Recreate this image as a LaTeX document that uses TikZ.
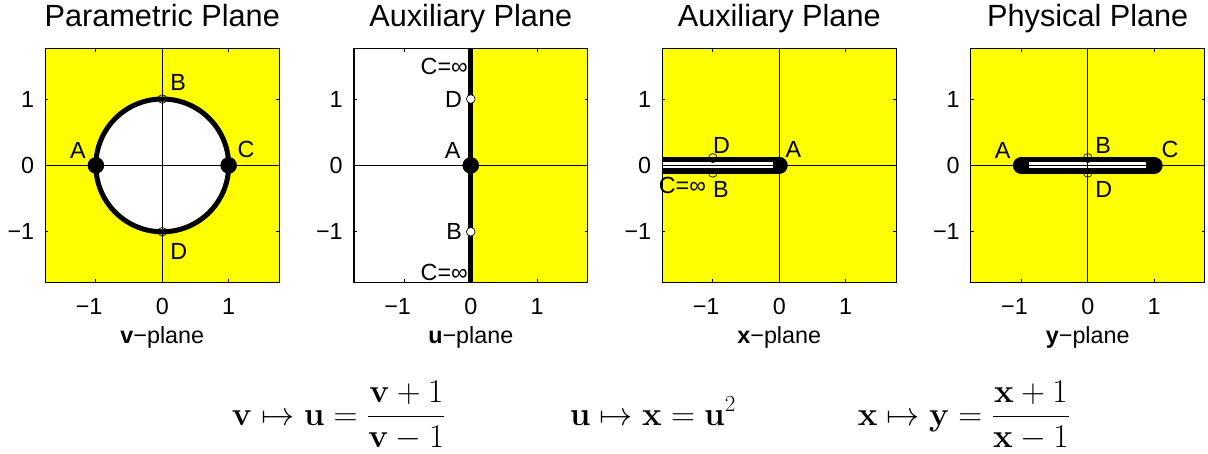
\documentclass[tikz,border=0pt]{standalone}
\usepackage{amsmath}
\usepackage[no-math]{fontspec}
\setmainfont{Liberation Sans}
\definecolor{plotyellow}{RGB}{255,255,0}

\begin{document}
\begin{tikzpicture}[x=49.8pt,y=49.8pt,
	title/.style={font=\fontsize{23}{27}\selectfont, anchor=base, inner sep=0pt},
	ticklbl/.style={font=\fontsize{17.5}{20}\selectfont, inner sep=0pt},
	ptlbl/.style={font=\fontsize{17.5}{20}\selectfont, inner sep=0pt},
	formula/.style={font=\fontsize{25}{29}\selectfont, anchor=base, inner sep=0pt},
	frame/.style={line width=0.9pt},
	axisline/.style={line width=0.6pt},
	opendot/.style={draw=black, line width=0.5pt},
	slit/.style={line width=12.75pt},
	slitgap/.style={white, line width=4.5pt}]
	\useasboundingbox (0,0) rectangle (18.193,-6.837);

	% Panel 1: parametric plane
	\begin{scope}[shift={(2.444,-2.491)}]
		\fill[plotyellow] (-1.76,-1.76) rectangle (1.76,1.76);
		\draw[line width=3.75pt, fill=white] (0,0) circle (1);
		\draw[axisline] (-1.76,0) -- (1.76,0);
		\draw[axisline] (0,-1.76) -- (0,1.76);
		\fill (-1,0) circle (0.125);
		\fill (1,0) circle (0.125);
		\draw[opendot] (0,1) circle (0.065);
		\draw[opendot] (0,-1) circle (0.065);
		\node[ptlbl, anchor=south east] (vA) at (-1.15,0.107) {A};
		\node[ptlbl, anchor=south west] (vB) at (0.117,1.125) {B};
		\node[ptlbl, anchor=south west] (vC) at (1.13,0.107) {C};
		\node[ptlbl, anchor=north west] (vD) at (0.117,-1.17) {D};
		\node[title] (tv) at (0,2.089) {Parametric Plane};
		\node[ticklbl, anchor=base] (lv) at (0,-2.683) {\textbf{v}−plane};
	\end{scope}

	% Panel 2: auxiliary u-plane
	\begin{scope}[shift={(7.090,-2.491)}]
		\fill[plotyellow] (0,-1.76) rectangle (1.76,1.76);
		\draw[axisline] (-1.76,0) -- (1.76,0);
		\draw[line width=3.75pt] (0,-1.76) -- (0,1.76);
		\fill (0,0) circle (0.125);
		\draw[opendot, fill=white] (0,1) circle (0.065);
		\draw[opendot, fill=white] (0,-1) circle (0.065);
		\node[ptlbl, anchor=south east] (uA) at (-0.15,0.1) {A};
		\node[ptlbl, anchor=east] (uB) at (-0.13,-1) {B};
		\node[ptlbl, anchor=east] (uD) at (-0.13,1) {D};
		\node[ptlbl, anchor=east] (uC1) at (-0.04,1.487) {C=∞};
		\node[ptlbl, anchor=east] (uC2) at (-0.04,-1.613) {C=∞};
		\node[title] (tu) at (0,2.089) {Auxiliary Plane};
		\node[ticklbl, anchor=base] (lu) at (0,-2.683) {\textbf{u}−plane};
	\end{scope}

	% Panel 3: auxiliary x-plane
	\begin{scope}[shift={(11.736,-2.491)}]
		\fill[plotyellow] (-1.76,-1.76) rectangle (1.76,1.76);
		\draw[slit] (-1.76,0) -- (0,0);
		\fill (0,0) circle (0.128);
		\draw[slitgap] (-1.76,0) -- (-0.1,0);
		\draw[axisline] (-1.76,0) -- (1.76,0);
		\draw[axisline] (0,-1.76) -- (0,1.76);
		\draw[opendot] (-1,0.11) circle (0.068);
		\draw[opendot] (-1,-0.11) circle (0.068);
		\node[ptlbl, anchor=south west] (xA) at (0.09,0.11) {A};
		\node[ptlbl, anchor=north west] (xB) at (-1.0,-0.245) {B};
		\node[ptlbl, anchor=north east] (xC) at (-1.1,-0.17) {C=∞};
		\node[ptlbl, anchor=south west] (xD) at (-1.0,0.17) {D};
		\node[title] (tx) at (0,2.089) {Auxiliary Plane};
		\node[ticklbl, anchor=base] (lx) at (0,-2.683) {\textbf{x}−plane};
	\end{scope}

	% Panel 4: physical plane
	\begin{scope}[shift={(16.382,-2.491)}]
		\fill[plotyellow] (-1.76,-1.76) rectangle (1.76,1.76);
		\draw[slit, line cap=round] (-1,0) -- (1,0);
		\draw[slitgap] (-0.88,0) -- (0.88,0);
		\draw[axisline] (-1.76,0) -- (1.76,0);
		\draw[axisline] (0,-1.76) -- (0,1.76);
		\draw[opendot] (0,0.11) circle (0.068);
		\draw[opendot] (0,-0.11) circle (0.068);
		\node[ptlbl, anchor=south east] (yA) at (-1.16,0.107) {A};
		\node[ptlbl, anchor=south west] (yB) at (0.11,0.18) {B};
		\node[ptlbl, anchor=south west] (yC) at (1.11,0.107) {C};
		\node[ptlbl, anchor=north west] (yD) at (0.11,-0.245) {D};
		\node[title] (ty) at (0,2.089) {Physical Plane};
		\node[ticklbl, anchor=base] (ly) at (0,-2.683) {\textbf{y}−plane};
	\end{scope}

	% Frames, ticks and tick labels
	\foreach \px [count=\i] in {2.444,7.090,11.736,16.382} {
		\begin{scope}[shift={(\px,-2.491)}]
			\draw[frame] (-1.76,-1.76) rectangle (1.76,1.76);
			\foreach \k/\t in {-1/{\llap{−}1},0/0,1/1} {
				\draw[axisline] (\k,-1.76) -- (\k,-1.715);
				\draw[axisline] (\k,1.76) -- (\k,1.715);
				\draw[axisline] (-1.76,\k) -- (-1.715,\k);
				\draw[axisline] (1.76,\k) -- (1.715,\k);
				\node[ticklbl, anchor=base] (xt\i\k) at (\k,-2.253) {\t};
				\node[ticklbl, anchor=east] (yt\i\k) at (-1.926,\k) {\t};
			}
		\end{scope}
	}

	% Maps between the planes
	\node[formula] (m1) at (5.105,-6.401)
		{$\displaystyle \mathbf{v}\mapsto\mathbf{u}=\frac{\mathbf{v}+1}{\mathbf{v}-1}$};
	\node[formula] (m2) at (9.834,-6.401)
		{$\displaystyle \mathbf{u}\mapsto\mathbf{x}=\mathbf{u}^2$};
	\node[formula] (m3) at (14.518,-6.401)
		{$\displaystyle \mathbf{x}\mapsto\mathbf{y}=\frac{\mathbf{x}+1}{\mathbf{x}-1}$};
\end{tikzpicture}
\end{document}
